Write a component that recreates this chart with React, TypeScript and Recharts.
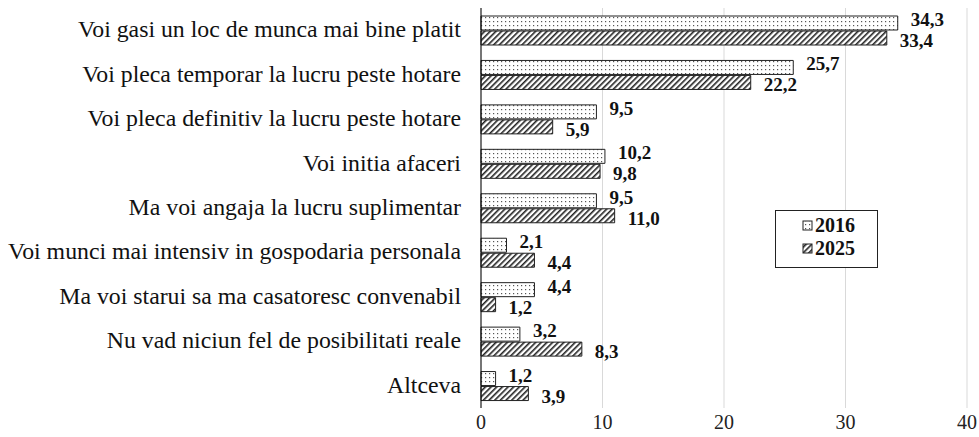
import { BarChart, Bar, XAxis, YAxis, CartesianGrid, LabelList } from 'recharts';

const categories = [
  'Voi gasi un loc de munca mai bine platit',
  'Voi pleca temporar la lucru peste hotare',
  'Voi pleca definitiv la lucru peste hotare',
  'Voi initia afaceri',
  'Ma voi angaja la lucru suplimentar',
  'Voi munci mai intensiv in gospodaria personala',
  'Ma voi starui sa ma casatoresc convenabil',
  'Nu vad niciun fel de posibilitati reale',
  'Altceva',
];
const values2016 = [34.3, 25.7, 9.5, 10.2, 9.5, 2.1, 4.4, 3.2, 1.2];
const values2025 = [33.4, 22.2, 5.9, 9.8, 11.0, 4.4, 1.2, 8.3, 3.9];
const xTicks = [0, 10, 20, 30, 40];

const data = categories.map((name, i) => ({ name, y2016: values2016[i], y2025: values2025[i] }));

const FONT = 'Liberation Serif, DejaVu Serif, Times New Roman, serif';

const fmt = (v: number) => v.toFixed(1).replace('.', ',');

const CategoryTick = (props: any) => {
  const { x, y, payload } = props;
  return (
    <text x={x - 12} y={y + 7} textAnchor="end" style={{ fontFamily: FONT }} fontSize={23.8} fill="#111">
      {payload.value}
    </text>
  );
};

const ValueTick = (props: any) => {
  const { x, y, payload } = props;
  return (
    <text x={x} y={y + 13} textAnchor="middle" style={{ fontFamily: FONT }} fontSize={20} fill="#222">
      {payload.value}
    </text>
  );
};

const makeLabel = (dy: number) => (props: any) => {
  const { x, y, width, height, value } = props;
  return (
    <text x={x + width + 13} y={y + height / 2 + dy} style={{ fontFamily: FONT }} fontSize={19} fontWeight="bold" fill="#111">
      {fmt(value)}
    </text>
  );
};

export default function App() {
  return (
    <div style={{ position: 'absolute', left: 0, top: 0, width: 979, height: 437, background: '#fff' }}>
      <BarChart
        width={979}
        height={437}
        data={data}
        layout="vertical"
        margin={{ top: 8, right: 12, bottom: 0, left: 0 }}
        barSize={14}
        barGap={1}
      >
        <defs>
          <pattern id="dots" width="4" height="4" patternUnits="userSpaceOnUse">
            <rect width="4" height="4" fill="#fff" />
            <rect x="1" y="1" width="1.2" height="1.2" fill="#555" />
          </pattern>
          <pattern id="hatch" width="4" height="4" patternUnits="userSpaceOnUse" patternTransform="rotate(45)">
            <rect width="4" height="4" fill="#fff" />
            <rect x="0" y="0" width="1.6" height="4" fill="#222" />
          </pattern>
        </defs>
        <CartesianGrid horizontal={false} stroke="#d9d9d9" />
        <XAxis
          type="number"
          domain={[0, 40]}
          ticks={xTicks}
          axisLine={false}
          tickLine={false}
          height={29}
          tick={<ValueTick />}
          interval={0}
        />
        <YAxis
          type="category"
          dataKey="name"
          width={481}
          axisLine={{ stroke: '#000', strokeWidth: 1 }}
          tickLine={false}
          tick={<CategoryTick />}
          interval={0}
        />
        <Bar dataKey="y2016" fill="url(#dots)" stroke="#222" strokeWidth={1} isAnimationActive={false}>
          <LabelList dataKey="y2016" content={makeLabel(3)} />
        </Bar>
        <Bar dataKey="y2025" fill="url(#hatch)" stroke="#222" strokeWidth={1} isAnimationActive={false}>
          <LabelList dataKey="y2025" content={makeLabel(9)} />
        </Bar>
      </BarChart>
      <div
        style={{
          position: 'absolute',
          left: 775,
          top: 210,
          width: 103,
          height: 58,
          border: '1px solid #222',
          boxSizing: 'border-box',
          background: '#fff',
        }}
      >
        <svg width={101} height={56} style={{ position: 'absolute', left: 0, top: 0 }}>
          <defs>
            <pattern id="ldots" width="4" height="4" patternUnits="userSpaceOnUse">
              <rect width="4" height="4" fill="#fff" />
              <rect x="1" y="1" width="1.2" height="1.2" fill="#555" />
            </pattern>
            <pattern id="lhatch" width="4" height="4" patternUnits="userSpaceOnUse" patternTransform="rotate(45)">
              <rect width="4" height="4" fill="#fff" />
              <rect x="0" y="0" width="1.6" height="4" fill="#222" />
            </pattern>
          </defs>
          <rect x={27} y={10} width={9} height={9} fill="url(#ldots)" stroke="#222" />
          <rect x={27} y={33} width={9} height={9} fill="url(#lhatch)" stroke="#222" />
          <text x={39} y={21} style={{ fontFamily: FONT }} fontWeight="bold" fontSize={20} fill="#111">2016</text>
          <text x={39} y={44} style={{ fontFamily: FONT }} fontWeight="bold" fontSize={20} fill="#111">2025</text>
        </svg>
      </div>
    </div>
  );
}
